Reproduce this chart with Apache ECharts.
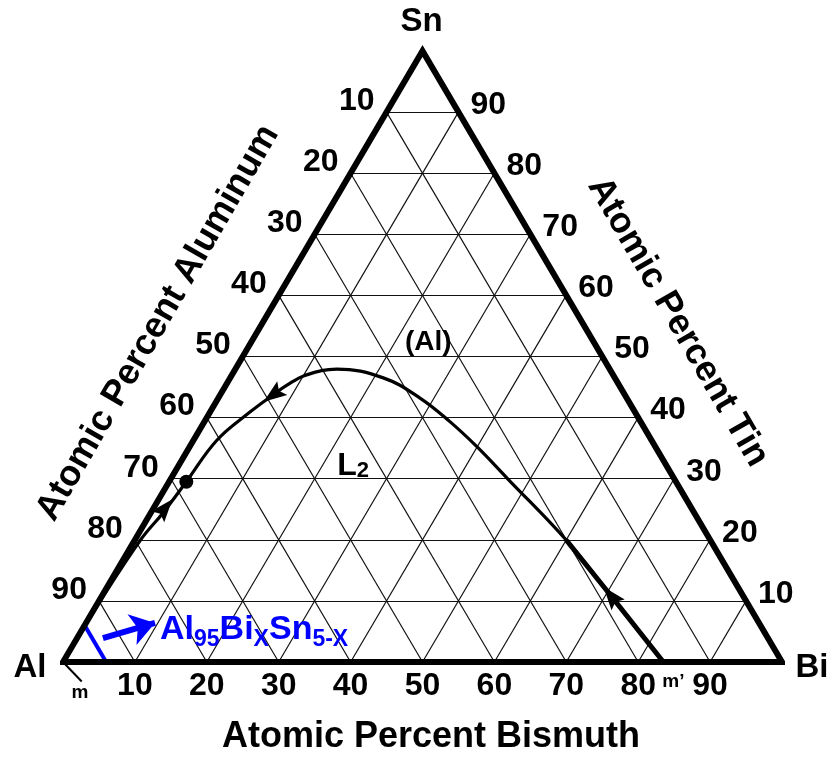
<!DOCTYPE html>
<html><head><meta charset="utf-8">
<script src="https://cdn.jsdelivr.net/npm/echarts@6/dist/echarts.min.js"></script>
<style>html,body{margin:0;padding:0;background:#fff}#c{width:831px;height:760px}</style>
</head><body><div id="c"></div>
<script>
// ---- data (ternary: percent Bi, percent Sn; Al = 100 - Bi - Sn) ----
const ticks = [10, 20, 30, 40, 50, 60, 70, 80, 90];
const vertexNames = ['Al', 'Bi', 'Sn'];
const vertexBi = [0, 100, 0];
const vertexSn = [0, 0, 100];
// miscibility-gap boundary, from m' (bottom) to m (Al corner)
const curveBi = [83.5, 70.6, 60.2, 46.7, 40.0, 34.2, 28.05, 21.3, 14.1, 10.2, 8.5, 7.35, 5.55, 3.25, 2.4, 1.7, 0.8, 0.2, 0];
const curveSn = [0, 11.0, 19.8, 30.1, 35.2, 39.3, 43.2, 46.5, 47.95, 46.9, 45.3, 43.7, 40.9, 36.3, 29.5, 24.4, 20, 10, 0];
const thickBi = [83.5, 70.6, 60.2];
const thickSn = [0, 11.0, 19.8];
const pointBi = [2.4];
const pointSn = [29.5];
const arrowBi = [70.8, 7.35, 1.6];
const arrowSn = [10.8, 43.7, 25.2];
const arrowAngle = [39, 126, -40];
const alloyLineBi = [0, 6];
const alloyLineSn = [6, 0];
const blueArrowBi = [3.6, 9.6];
const blueArrowSn = [3.9, 6.4];
const regionNames = ['(Al)', 'L2'];
const regionBi = [24.6, 24.3];
const regionSn = [52.4, 32.1];
const mTickBi = [0, 4.2];
const mTickSn = [0, -3.2];
const mPrimeBi = 83.5;

const FONT = 'Liberation Sans';
const xy = (bi, sn) => [bi + sn / 2, sn];

// grid lines
const gridLines = [];
ticks.forEach(t => {
  gridLines.push({ coords: [xy(0, t), xy(100 - t, t)] });        // Sn = t
  gridLines.push({ coords: [xy(t, 0), xy(t, 100 - t)] });        // Bi = t
  gridLines.push({ coords: [xy(100 - t, 0), xy(0, 100 - t)] });  // Al = t
});

const edge = [0, 1, 2, 0, 1].map(i => xy(vertexBi[i], vertexSn[i]));
const curve = curveBi.map((b, i) => xy(b, curveSn[i]));
const thick = thickBi.map((b, i) => xy(b, thickSn[i]));

const lblBase = { show: true, fontFamily: FONT, fontWeight: 'bold', color: '#000' };
const solid = { opacity: 1 };
const ARROW = 'path://M6,0 L12,22 L6,18 L0,22 Z';

const option = {
  animation: false,
  grid: { left: 63, top: 51, width: 719, height: 611 },
  xAxis: { type: 'value', min: 0, max: 100, show: false },
  yAxis: { type: 'value', min: 0, max: 100, show: false },
  graphic: [
    { type: 'text', x: 431, y: 737, style: { text: 'Atomic Percent Bismuth', font: 'bold 36px "Liberation Sans"', fill: '#000', align: 'center', verticalAlign: 'middle' } },
    { type: 'text', x: 158, y: 323, rotation: Math.PI / 3, style: { text: 'Atomic Percent Aluminum', font: 'bold 36px "Liberation Sans"', fill: '#000', align: 'center', verticalAlign: 'middle' } },
    { type: 'text', x: 678, y: 322, rotation: -Math.PI / 3, style: { text: 'Atomic Percent Tin', font: 'bold 36px "Liberation Sans"', fill: '#000', align: 'center', verticalAlign: 'middle' } }
  ],
  series: [
    { type: 'lines', coordinateSystem: 'cartesian2d', polyline: false, silent: true, clip: false,
      data: gridLines, lineStyle: { color: '#111', width: 1.2, opacity: 1 } },
    { type: 'line', data: curve, smooth: 0.4, symbol: 'none', clip: false, silent: true,
      lineStyle: { color: '#000', width: 3.2 } },
    { type: 'line', data: thick, smooth: false, symbol: 'none', clip: false, silent: true,
      lineStyle: { color: '#000', width: 5, cap: 'round' } },
    { type: 'line', data: alloyLineBi.map((b, i) => xy(b, alloyLineSn[i])), symbol: 'none', clip: false, silent: true,
      lineStyle: { color: '#0000ff', width: 4 } },
    { type: 'lines', coordinateSystem: 'cartesian2d', polyline: false, silent: true, clip: false,
      symbol: ['none', 'arrow'], symbolSize: 24,
      data: [{ coords: blueArrowBi.map((b, i) => xy(b, blueArrowSn[i])) }],
      lineStyle: { color: '#0000ff', width: 6, opacity: 1 } },
    { type: 'line', data: mTickBi.map((b, i) => xy(b, mTickSn[i])), symbol: 'none', clip: false, silent: true,
      lineStyle: { color: '#000', width: 2 } },
    { type: 'line', data: edge, symbol: 'none', clip: false, silent: true,
      lineStyle: { color: '#000', width: 6, join: 'miter', miterLimit: 10 } },
    { type: 'scatter', clip: false, silent: true, symbol: 'circle', symbolSize: 14,
      itemStyle: { color: '#000', opacity: 1 }, data: pointBi.map((b, i) => xy(b, pointSn[i])) },
    { type: 'scatter', clip: false, silent: true, symbol: ARROW, symbolSize: [17, 23],
      itemStyle: { color: '#000', opacity: 1 },
      data: arrowBi.map((b, i) => ({ value: xy(b, arrowSn[i]), symbolRotate: arrowAngle[i] })) },
    // left tick labels (Al)
    { type: 'scatter', clip: false, silent: true, symbolSize: 0, itemStyle: solid,
      data: ticks.map(a => xy(0, 100 - a).concat([a])),
      label: Object.assign({}, lblBase, { position: 'left', distance: 12, offset: [0, -11], fontSize: 32, formatter: p => p.value[2] }) },
    // right tick labels (Sn)
    { type: 'scatter', clip: false, silent: true, symbolSize: 0, itemStyle: solid,
      data: ticks.map(s => xy(100 - s, s).concat([s])),
      label: Object.assign({}, lblBase, { position: 'right', distance: 12, offset: [0, -7], fontSize: 32, formatter: p => p.value[2] }) },
    // bottom tick labels (Bi)
    { type: 'scatter', clip: false, silent: true, symbolSize: 0, itemStyle: solid,
      data: ticks.map(b => xy(b, 0).concat([b])),
      label: Object.assign({}, lblBase, { position: 'bottom', distance: 8, fontSize: 32, formatter: p => p.value[2] }) },
    // vertex labels
    { type: 'scatter', clip: false, silent: true, symbolSize: 0, itemStyle: solid,
      data: vertexNames.map((n, i) => ({ value: xy(vertexBi[i], vertexSn[i]), name: n,
        label: { offset: [[-33, 6], [30, 6], [-1, -29]][i] } })),
      label: Object.assign({}, lblBase, { position: 'inside', fontSize: 33, formatter: p => p.name }) },
    // region labels
    { type: 'scatter', clip: false, silent: true, symbolSize: 0, itemStyle: solid,
      data: regionNames.map((n, i) => ({ value: xy(regionBi[i], regionSn[i]), name: n })),
      label: Object.assign({}, lblBase, { position: 'inside', fontSize: 28,
        formatter: p => p.name === 'L2' ? '{a|L}{b|2}' : '{c|' + p.name + '}',
        rich: {
          a: { fontFamily: FONT, fontWeight: 'bold', fontSize: 32, lineHeight: 32, verticalAlign: 'bottom', color: '#000' },
          b: { fontFamily: FONT, fontWeight: 'bold', fontSize: 22, lineHeight: 22, verticalAlign: 'bottom', color: '#000' },
          c: { fontFamily: FONT, fontWeight: 'bold', fontSize: 28, color: '#000' }
        } }) },
    // m and m' labels
    { type: 'scatter', clip: false, silent: true, symbolSize: 0, itemStyle: solid,
      data: [{ value: xy(0, 0), name: 'm', label: { offset: [17, 31] } },
             { value: xy(mPrimeBi, 0), name: 'm\u2019', label: { offset: [10, 20] } }],
      label: Object.assign({}, lblBase, { position: 'inside', fontSize: 19, formatter: p => p.name }) },
    // alloy label
    { type: 'scatter', clip: false, silent: true, symbolSize: 0, itemStyle: solid,
      data: [xy(blueArrowBi[1], blueArrowSn[1])],
      label: { show: true, position: 'right', distance: 5, offset: [0, 7],
        formatter: '{m|Al}{s|95}{m|Bi}{s|X}{m|Sn}{s|5-X}',
        rich: {
          m: { fontFamily: FONT, fontWeight: 'bold', fontSize: 34, lineHeight: 34, verticalAlign: 'top', color: '#0000ff' },
          s: { fontFamily: FONT, fontWeight: 'bold', fontSize: 23, lineHeight: 23, verticalAlign: 'top', padding: [15, 0, 0, 0], color: '#0000ff' }
        } } }
  ]
};

const chart = echarts.init(document.getElementById('c'), null, { renderer: 'canvas' });
chart.setOption(option);
</script>
</body></html>
